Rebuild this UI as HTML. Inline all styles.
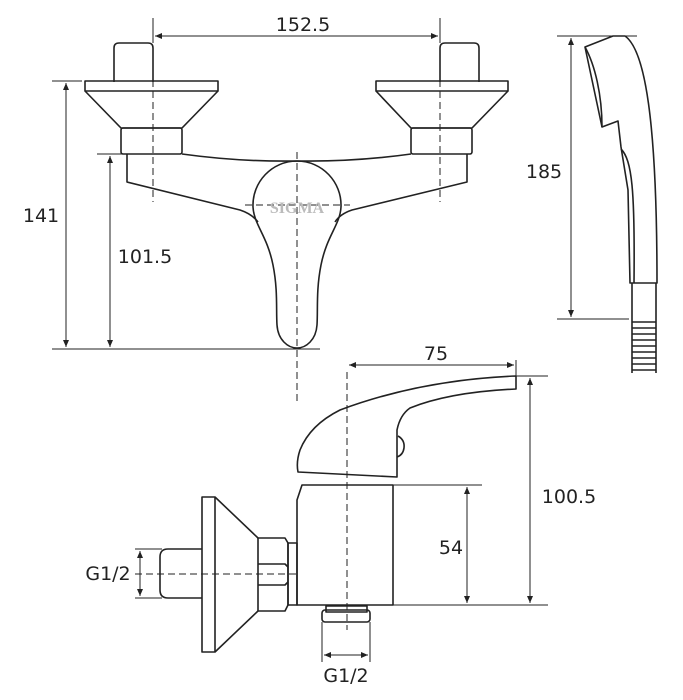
<!DOCTYPE html>
<html><head><meta charset="utf-8"><style>
html,body{margin:0;padding:0;background:#fff}
svg{display:block}
text{font-family:"DejaVu Sans","Liberation Sans",sans-serif;font-size:19px;fill:#222}
</style></head><body>
<svg width="683" height="700" viewBox="0 0 683 700" xmlns="http://www.w3.org/2000/svg">
<defs>
<marker id="a" markerWidth="8" markerHeight="8" refX="7" refY="4" orient="auto-start-reverse" markerUnits="userSpaceOnUse"><path d="M0,1 L7,4 L0,7 z" fill="#222"/></marker>
</defs>
<g fill="none" stroke="#222" stroke-width="1.6" stroke-linejoin="round">
<path d="M114,82 V48 Q114,43 119,43 H148 Q153,43 153,48 V82"/>
<path d="M440,82 V48 Q440,43 445,43 H474 Q479,43 479,48 V82"/>
<rect x="85" y="81" width="133" height="10"/>
<rect x="376" y="81" width="132" height="10"/>
<path d="M85,91 L121,128 H182 L218,91"/>
<path d="M376,91 L411,128 H472 L508,91"/>
<rect x="121" y="128" width="61" height="26" rx="2"/>
<rect x="411" y="128" width="61" height="26" rx="2"/>
<path d="M127,154 V182 L240,210 Q252,214 258,222"/>
<path d="M467,154 V182 L352,210 Q340,214 335,222"/>
<path d="M182,154 Q240,162 297,161 Q354,162 411,154"/>
<path d="M297,161 C322,161 342,182 341,207 C340,225 327,235 321,265 C316,290 318,310 317,325 C316,340 306,348 297,348 C288,348 278,340 277,325 C276,310 278,290 273,265 C267,235 254,225 253,207 C252,182 272,161 297,161 Z"/>
</g>
<g stroke="#222" stroke-width="1" stroke-dasharray="7,4" fill="none">
<line x1="153" y1="36" x2="153" y2="202"/>
<line x1="440" y1="36" x2="440" y2="202"/>
<line x1="297" y1="152" x2="297" y2="402"/>
<line x1="245" y1="205" x2="350" y2="205"/>
<line x1="347" y1="372" x2="347" y2="630"/>
<line x1="135" y1="574" x2="297" y2="574"/>
</g>
<text x="297" y="213" text-anchor="middle" style="font-size:16px;font-weight:bold;fill:#bbb;font-family:'Liberation Serif',serif">SIGMA</text>
<g stroke="#222" stroke-width="1" fill="none">
<line x1="153" y1="18" x2="153" y2="43"/>
<line x1="440" y1="18" x2="440" y2="43"/>
<line x1="155" y1="36" x2="438" y2="36" marker-start="url(#a)" marker-end="url(#a)"/>
<line x1="52" y1="81" x2="82" y2="81"/>
<line x1="52" y1="349" x2="320" y2="349"/>
<line x1="66" y1="83" x2="66" y2="347" marker-start="url(#a)" marker-end="url(#a)"/>
<line x1="97" y1="154" x2="127" y2="154"/>
<line x1="110" y1="156" x2="110" y2="347" marker-start="url(#a)" marker-end="url(#a)"/>
<line x1="349" y1="365" x2="514" y2="365" marker-start="url(#a)" marker-end="url(#a)"/>
<line x1="516" y1="360" x2="516" y2="376"/>
<line x1="516" y1="376" x2="548" y2="376"/>
<line x1="393" y1="605" x2="548" y2="605"/>
<line x1="530" y1="378" x2="530" y2="603" marker-start="url(#a)" marker-end="url(#a)"/>
<line x1="393" y1="485" x2="482" y2="485"/>
<line x1="467" y1="487" x2="467" y2="603" marker-start="url(#a)" marker-end="url(#a)"/>
<line x1="135" y1="549" x2="162" y2="549"/>
<line x1="135" y1="598" x2="162" y2="598"/>
<line x1="140" y1="551" x2="140" y2="596" marker-start="url(#a)" marker-end="url(#a)"/>
<line x1="322" y1="622" x2="322" y2="662"/>
<line x1="370" y1="622" x2="370" y2="662"/>
<line x1="324" y1="655" x2="368" y2="655" marker-start="url(#a)" marker-end="url(#a)"/>
<line x1="557" y1="36" x2="637" y2="36"/>
<line x1="557" y1="319" x2="629" y2="319"/>
<line x1="571" y1="38" x2="571" y2="317" marker-start="url(#a)" marker-end="url(#a)"/>
</g>
<g fill="none" stroke="#222" stroke-width="1.6" stroke-linejoin="round">
<path d="M516,376 V389 Q450,392 410,408 Q400,415 397,430 V477 L298,472 Q296,462 300,450 Q310,425 340,410 Q420,380 516,376 Z"/>
<path d="M398,436 Q405,440 404,448 Q403,455 397,457"/>
<path d="M302,485 H393 V605 H297 V500 Z"/>
<rect x="288" y="543" width="9" height="62"/>
<path d="M258,538 H285 L288,543 V605 L285,611 H258 Z"/>
<path d="M258,564 H285 L288,567 M258,585 H285 L288,582"/>
<rect x="202" y="497" width="13" height="155"/>
<path d="M215,497 L258,538 M215,652 L258,611"/>
<path d="M202,549 H168 Q160,549 160,557 V590 Q160,598 168,598 H202"/>
<rect x="326" y="606" width="41" height="6"/>
<rect x="322" y="610" width="48" height="12" rx="3"/>
<path d="M585,47 L613,36 H625 C645,50 657,120 657,283 H630 L628,190 L621,147 L618,121 L602,127 Z"/>
<path d="M585,47 C595,65 602,95 602,127"/>
<path d="M621,149 C632,160 635,190 634,283"/>
<path d="M632,283 V373 M656,283 V373"/>
<path d="M632,322 H656 M632,328 H656 M632,334 H656 M632,340 H656 M632,346 H656 M632,352 H656 M632,358 H656 M632,364 H656 M632,370 H656"/>
</g>
<text x="303" y="31" text-anchor="middle">152.5</text>
<text x="41" y="222" text-anchor="middle">141</text>
<text x="145" y="263" text-anchor="middle">101.5</text>
<text x="544" y="178" text-anchor="middle">185</text>
<text x="436" y="360" text-anchor="middle">75</text>
<text x="569" y="503" text-anchor="middle">100.5</text>
<text x="451" y="554" text-anchor="middle">54</text>
<text x="108" y="580" text-anchor="middle">G1/2</text>
<text x="346" y="682" text-anchor="middle">G1/2</text>
</svg>
</body></html>
